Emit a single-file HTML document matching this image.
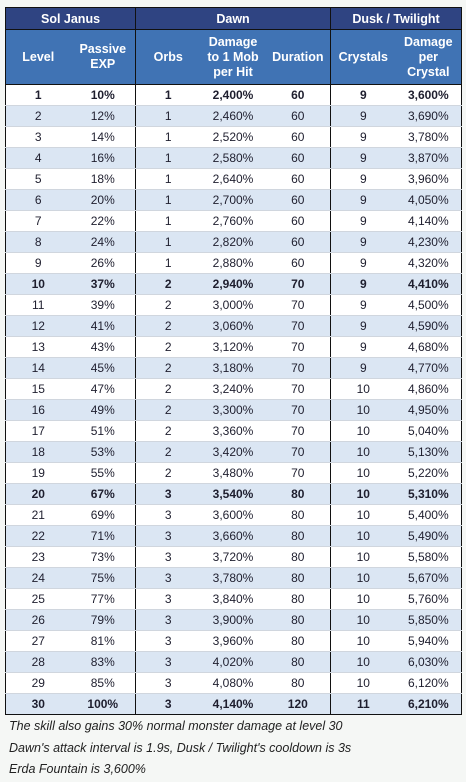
<!DOCTYPE html>
<html><head><meta charset="utf-8">
<style>
body{margin:0;background:#f5f7f5;width:466px;height:782px;overflow:hidden;font-family:"Liberation Sans",sans-serif;}
table{position:absolute;left:5px;top:7px;border-collapse:collapse;width:456px;table-layout:fixed;font-size:12px;color:#1e1e2e;}
th{color:#fff;font-weight:bold;font-size:12.5px;border:1.5px solid #111;padding:0;}
tr.h1 th{background:#2f4482;height:21px;}
tr.h2 th{background:#4073b4;height:54px;line-height:15px;border-top:none;border-bottom:1.5px solid #111;}
tr.h2 th{border-left:none;border-right:none}
tr.h2 th.l{border-left:1.5px solid #111}
tr.h2 th.r{border-right:1.5px solid #111}
td{height:20px;padding:0;text-align:center;border-bottom:1px solid #d0d6de;}
td.l{border-left:1.5px solid #111}
td.r{border-right:1.5px solid #111}
tr.alt td{background:#dbe6f3}
tr.odd td{background:#fff}
tr.b td{font-weight:bold}
tr.last td{border-bottom:1.5px solid #111}
.notes{position:absolute;left:9px;top:716px;font-style:italic;font-size:12.5px;color:#222;line-height:21.5px;}
</style></head><body>
<table>
<colgroup><col style="width:65px"><col style="width:65px"><col style="width:65px"><col style="width:65px"><col style="width:65px"><col style="width:65px"><col style="width:66px"></colgroup>
<tr class="h1"><th colspan="2">Sol Janus</th><th colspan="3">Dawn</th><th colspan="2">Dusk / Twilight</th></tr>
<tr class="h2"><th class="l">Level</th><th>Passive<br>EXP</th><th class="l">Orbs</th><th>Damage<br>to 1 Mob<br>per Hit</th><th>Duration</th><th class="l">Crystals</th><th class="r">Damage<br>per<br>Crystal</th></tr>
<tbody id="tb"></tbody>
</table>
<div class="notes">
<div>The skill also gains 30% normal monster damage at level 30</div>
<div>Dawn's attack interval is 1.9s, Dusk / Twilight's cooldown is 3s</div>
<div>Erda Fountain is 3,600%</div>
</div>
<script>
const levels=[1,2,3,4,5,6,7,8,9,10,11,12,13,14,15,16,17,18,19,20,21,22,23,24,25,26,27,28,29,30];
const passiveExp=["10%","12%","14%","16%","18%","20%","22%","24%","26%","37%","39%","41%","43%","45%","47%","49%","51%","53%","55%","67%","69%","71%","73%","75%","77%","79%","81%","83%","85%","100%"];
const orbs=[1,1,1,1,1,1,1,1,1,2,2,2,2,2,2,2,2,2,2,3,3,3,3,3,3,3,3,3,3,3];
const dawnDamage=["2,400%","2,460%","2,520%","2,580%","2,640%","2,700%","2,760%","2,820%","2,880%","2,940%","3,000%","3,060%","3,120%","3,180%","3,240%","3,300%","3,360%","3,420%","3,480%","3,540%","3,600%","3,660%","3,720%","3,780%","3,840%","3,900%","3,960%","4,020%","4,080%","4,140%"];
const duration=[60,60,60,60,60,60,60,60,60,70,70,70,70,70,70,70,70,70,70,80,80,80,80,80,80,80,80,80,80,120];
const crystals=[9,9,9,9,9,9,9,9,9,9,9,9,9,9,10,10,10,10,10,10,10,10,10,10,10,10,10,10,10,11];
const crystalDamage=["3,600%","3,690%","3,780%","3,870%","3,960%","4,050%","4,140%","4,230%","4,320%","4,410%","4,500%","4,590%","4,680%","4,770%","4,860%","4,950%","5,040%","5,130%","5,220%","5,310%","5,400%","5,490%","5,580%","5,670%","5,760%","5,850%","5,940%","6,030%","6,120%","6,210%"];
const boldLevels=[1,10,20,30];
const tb=document.getElementById('tb');
levels.forEach((lv,i)=>{
  const tr=document.createElement('tr');
  
  
  tr.className=(i%2?'alt':'odd')+(boldLevels.includes(lv)?' b':'')+(i===levels.length-1?' last':'');
  const vals=[lv,passiveExp[i],orbs[i],dawnDamage[i],duration[i],crystals[i],crystalDamage[i]];
  const names=['level','passive-exp','orbs','dawn-damage','duration','crystals','crystal-damage'];
  vals.forEach((v,j)=>{
    const td=document.createElement('td');
    
    
    if(j===0||j===2||j===5)td.className='l';
    if(j===6)td.className='r';
    td.textContent=v;
    tr.appendChild(td);
  });
  tb.appendChild(tr);
});
</script>
</body></html>
